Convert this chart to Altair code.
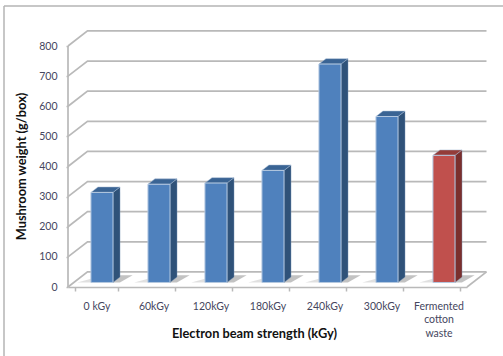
import altair as alt
import pandas as pd

# Chart values
categories = ["0 kGy", "60kGy", "120kGy", "180kGy", "240kGy", "300kGy", "Fermented|cotton|waste"]
weights = [299, 326, 330, 372, 725, 551, 422]
front_colors = ["#4f81bd"] * 6 + ["#c0504d"]
side_colors = ["#2f5279"] * 6 + ["#7b2f2d"]
top_colors = ["#3a6494"] * 6 + ["#943c39"]
y_ticks = [0, 100, 200, 300, 400, 500, 600, 700, 800]

# Oblique projection of the 3-D box: depth 0 is the front plane, depth 1 the back wall
DEPTH_X = 0.342      # category units per unit of depth
DEPTH_Y = 50         # value units per unit of depth
BAR_LEFT, BAR_RIGHT = 0.30, 0.687   # bar extent inside its category slot
BAR_Z0, BAR_Z1 = 0.30, 0.66
N = len(categories)
GRID = "#b9b9b9"
FRAME = "#b4b4b4"


def project(cat, z, value):
    return cat + z * DEPTH_X, value + z * DEPTH_Y


# Grid lines: oblique stroke on the side wall, then across the back wall
grid_rows = []
for v in y_ticks:
    for order, (c, z) in enumerate([(0, 0), (0, 1), (N, 1)]):
        x, y = project(c, z, v)
        grid_rows.append({"g": v, "o": order, "x": x, "y": y})
# Floor edge on the right and the vertical front axis
for order, (c, z, v) in enumerate([(N, 1, 0), (N, 0, 0)]):
    x, y = project(c, z, v)
    grid_rows.append({"g": -1, "o": order, "x": x, "y": y})
for order, v in enumerate([0, 800]):
    grid_rows.append({"g": -2, "o": order, "x": 0, "y": v})
grid_df = pd.DataFrame(grid_rows)

side_rows, top_rows, shadow_rows, front_rows = [], [], [], []
for i, w in enumerate(weights):
    xf0, yb0 = project(i + BAR_LEFT, BAR_Z0, 0)
    xf1, _ = project(i + BAR_RIGHT, BAR_Z0, 0)
    ytop0 = yb0 + w
    xb0, yb1 = project(i + BAR_LEFT, BAR_Z1, 0)
    xb1, _ = project(i + BAR_RIGHT, BAR_Z1, 0)
    ytop1 = yb1 + w
    front_rows.append({"i": i, "x": xf0, "x2": xf1, "y": ytop0, "y2": yb0, "c": front_colors[i]})
    side_rows += [
        {"i": i, "x": xf1, "y": ytop0, "y2": yb0, "c": side_colors[i]},
        {"i": i, "x": xb1, "y": ytop1, "y2": yb1, "c": side_colors[i]},
    ]
    top_rows += [
        {"i": i, "x": xf0, "y": ytop0, "y2": ytop0, "c": top_colors[i]},
        {"i": i, "x": xb0, "y": ytop1, "y2": ytop0, "c": top_colors[i]},
        {"i": i, "x": xf1, "y": ytop1, "y2": ytop0, "c": top_colors[i]},
        {"i": i, "x": xb1, "y": ytop1, "y2": ytop1, "c": top_colors[i]},
    ]
    # Soft floor shadow: a darker band beside the bar and a faint one before it
    sx, sy = project(i + BAR_RIGHT, BAR_Z0, 0)
    ex, ey = project(i + BAR_RIGHT + 0.18, BAR_Z1 + 0.12, 0)
    shadow_rows += [
        {"i": i, "x": sx, "y": ey, "y2": sy, "s": "a"},
        {"i": i, "x": sx + 0.12, "y": ey, "y2": sy, "s": "a"},
        {"i": i, "x": ex, "y": ey, "y2": ey, "s": "a"},
        {"i": i + 100, "x": xf0 - 0.24, "y": yb0, "y2": yb0, "s": "b"},
        {"i": i + 100, "x": xf0 - 0.08, "y": yb0 + 8, "y2": yb0, "s": "b"},
        {"i": i + 100, "x": xf0, "y": yb0 + 12, "y2": yb0, "s": "b"},
    ]

front_df = pd.DataFrame(front_rows)
side_df = pd.DataFrame(side_rows)
top_df = pd.DataFrame(top_rows)
shadow_df = pd.DataFrame(shadow_rows)

WIDTH = 435
PX_PER_CAT = 57
x_scale = alt.Scale(domain=[0, WIDTH / PX_PER_CAT], range=[0, WIDTH], nice=False, zero=False)
y_top = 281 / (241 / 800)
y_scale = alt.Scale(domain=[0, y_top], range=[281, 0], nice=False, zero=False)

X = alt.X("x:Q", scale=x_scale, axis=None)
Y = alt.Y(
    "y:Q",
    scale=y_scale,
    axis=alt.Axis(
        values=y_ticks,
        title="Mushroom weight (g/box)",
        titleFont="Lato",
        titleFontSize=12.8,
        titleFontWeight="bold",
        titleColor="#111111",
        titleX=-40,
        titleY=160,
        labelFont="Lato",
        labelFontSize=10.5,
        labelColor="#45465e",
        labelPadding=9,
        labelOverlap=False,
        labelSeparation=0,
        domain=False,
        grid=False,
        tickColor=GRID,
        tickSize=2,
        tickWidth=1.5,
    ),
)

grid = (
    alt.Chart(grid_df)
    .mark_line(color=GRID, strokeWidth=1.7, clip=False)
    .encode(x=X, y=Y, detail="g:N", order="o:Q")
)
shadow_dark = (
    alt.Chart(shadow_df[shadow_df.s == "a"])
    .mark_area(color="#a8a8a8", opacity=0.7)
    .encode(x=X, y=Y, y2="y2:Q", detail="i:N")
)
shadow_faint = (
    alt.Chart(shadow_df[shadow_df.s == "b"])
    .mark_area(color="#d8d8d8", opacity=0.8)
    .encode(x=X, y=Y, y2="y2:Q", detail="i:N")
)
sides = (
    alt.Chart(side_df)
    .mark_area(stroke="#7f9bbd", strokeWidth=0.4)
    .encode(x=X, y=Y, y2="y2:Q", detail="i:N", color=alt.Color("c:N", scale=None))
)
tops = (
    alt.Chart(top_df)
    .mark_area(stroke="#a9bcd4", strokeWidth=0.5)
    .encode(x=X, y=Y, y2="y2:Q", detail="i:N", color=alt.Color("c:N", scale=None))
)
fronts = (
    alt.Chart(front_df)
    .mark_rect(stroke="#b4c8e0", strokeWidth=1)
    .encode(x=X, x2="x2:Q", y=Y, y2="y2:Q", color=alt.Color("c:N", scale=None))
)

# Invisible layer that carries the category axis along the front floor edge
category_axis = (
    alt.Chart(pd.DataFrame({"category": categories}))
    .mark_tick(opacity=0)
    .encode(
        x=alt.X(
            "category:N",
            sort=categories,
            scale=alt.Scale(domain=categories, range=[0, N * PX_PER_CAT]),
            axis=alt.Axis(
                title="Electron beam strength (kGy)",
                titleFont="Lato",
                titleFontSize=12.8,
                titleFontWeight="bold",
                titleColor="#111111",
                titleX=186,
                titleY=40,
                labelFont="Lato",
                labelFontSize=10.5,
                labelColor="#45465e",
                labelAngle=0,
                labelPadding=10,
                labelLimit=0,
                labelLineHeight=13.5,
                labelExpr="split(datum.label, '|')",
                tickBand="extent",
                tickColor=GRID,
                tickSize=4,
                tickWidth=1.5,
                domainColor=GRID,
                domainWidth=1.7,
                grid=False,
            ),
        ),
        y=alt.value(0),
    )
)

# Outer frame of the figure, open at the right and the bottom
frame_top = alt.Chart(pd.DataFrame({"a": [0]})).mark_rule(color=FRAME, strokeWidth=1.5).encode(
    x=alt.value(-64), x2=alt.value(435), y=alt.value(0)
)
frame_left = alt.Chart(pd.DataFrame({"a": [0]})).mark_rule(color=FRAME, strokeWidth=1.5).encode(
    x=alt.value(-64), y=alt.value(0), y2=alt.value(350)
)

chart = (
    alt.layer(
        frame_top,
        frame_left,
        grid,
        shadow_faint,
        shadow_dark,
        sides,
        tops,
        fronts,
        category_axis,
    )
    .resolve_scale(x="independent", color="independent")
    .properties(
        width=WIDTH,
        height=281,
        autosize=alt.AutoSizeParams(type="none"),
        padding={"left": 68, "top": 6, "right": 0, "bottom": 69},
        background="white",
    )
    .configure_view(stroke=None)
    .configure_axis(labelOverlap=False)
)

chart.save("out.html", embed_options={"renderer": "svg", "actions": False})
